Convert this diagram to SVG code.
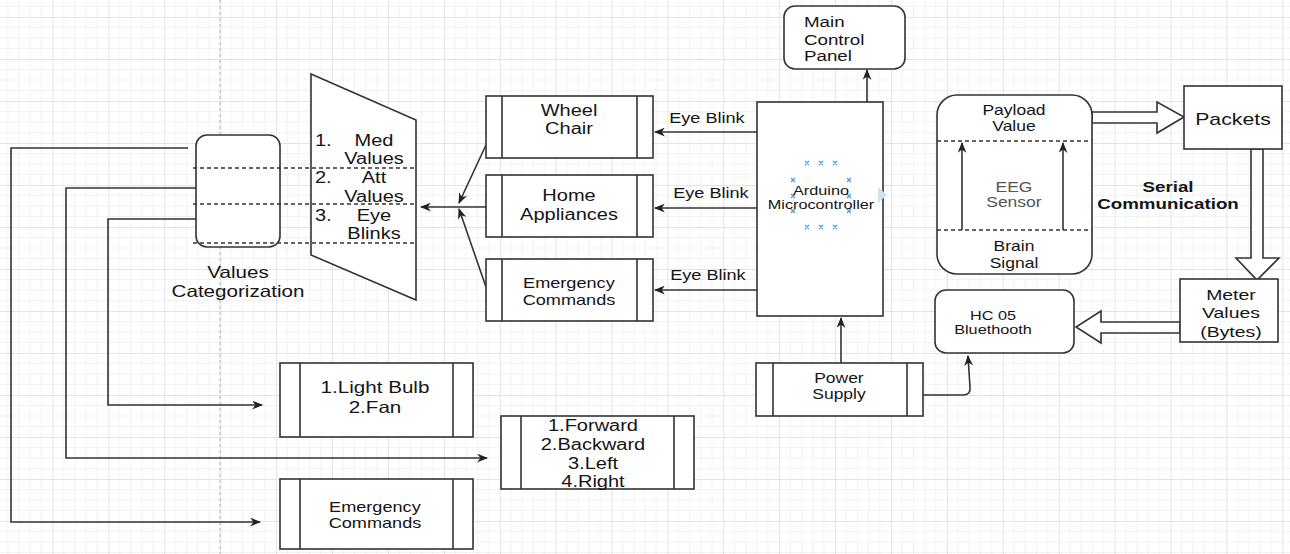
<svg xmlns="http://www.w3.org/2000/svg" width="1290" height="554" viewBox="0 0 1290 554">
<defs>
<pattern id="grid" x="52.5" y="17" width="55.9" height="42" patternUnits="userSpaceOnUse">
<path d="M11.18,0V42M22.36,0V42M33.54,0V42M44.72,0V42M0,10.5H55.9M0,21H55.9M0,31.5H55.9" stroke="#f2f2f2" stroke-width="1" fill="none"/>
<path d="M0.5,0V42M0,0.5H55.9" stroke="#e3e3e3" stroke-width="1" fill="none"/>
</pattern>
<marker id="arr" viewBox="0 0 10 8" refX="9" refY="4" markerWidth="11" markerHeight="9" markerUnits="userSpaceOnUse" orient="auto">
<path d="M0,0 L10,4 L0,8 L3,4 Z" fill="#222"/>
</marker>
<style>
.box{fill:#fff;stroke:#333;stroke-width:1.6}
.ln{fill:none;stroke:#333;stroke-width:1.6}
.dash{fill:none;stroke:#333;stroke-width:1.3;stroke-dasharray:4 3}
.t{font-family:"Liberation Sans",Arial,sans-serif;fill:#151515;text-anchor:middle;transform-box:fill-box;transform-origin:center;transform:scaleX(1.25)}
.tl{text-anchor:start;transform-origin:left center}
.b{font-weight:bold}
.x{stroke:#5a9fd4;stroke-width:1.4}
</style>
</defs>
<rect width="1290" height="554" fill="#fff"/>
<rect width="1290" height="554" fill="url(#grid)"/>
<line x1="220" y1="0" x2="220" y2="554" stroke="#c4c4c4" stroke-width="1.3" stroke-dasharray="3 3"/>

<g id="connectors">
<path class="ln" d="M188,148 H11 V522 H260" marker-end="url(#arr)"/>
<path class="ln" d="M196,188 H66 V458 H487" marker-end="url(#arr)"/>
<path class="ln" d="M198,219 H108 V405 H262" marker-end="url(#arr)"/>
<path class="ln" d="M486,145 L459,203" marker-end="url(#arr)"/>
<path class="ln" d="M486,207 L421,207" marker-end="url(#arr)"/>
<path class="ln" d="M486,287 L459,209" marker-end="url(#arr)"/>
<path class="ln" d="M757,132 H655" marker-end="url(#arr)"/>
<path class="ln" d="M757,208 H655" marker-end="url(#arr)"/>
<path class="ln" d="M757,290 H655" marker-end="url(#arr)"/>
<path class="ln" d="M867,102 V70" marker-end="url(#arr)"/>
<path class="ln" d="M841,363 V318" marker-end="url(#arr)"/>
<path class="ln" d="M923,395 H963 Q971,395 970,387 L968,356" marker-end="url(#arr)"/>
<polygon class="box" points="1092,112 1157,112 1157,102 1184,117 1157,133 1157,123 1092,123"/>
<polygon class="box" points="1251,149 1263,149 1263,258 1279,258 1257,280 1236,258 1251,258"/>
<polygon class="box" points="1180,322 1101,322 1101,311 1076,327 1101,343 1101,333 1180,333"/>
</g>

<g id="values-categorization">
<rect class="box" x="196" y="135" width="84" height="112" rx="11"/>
<text class="t" x="238" y="278" font-size="16.5">Values</text>
<text class="t" x="238" y="297" font-size="16.5">Categorization</text>
</g>

<g id="categories">
<polygon class="box" points="311,74 416,120 416,300 311,255"/>
<text class="t tl" x="315" y="146" font-size="16">1.</text>
<text class="t" x="374" y="146" font-size="16">Med</text>
<text class="t" x="374" y="164" font-size="16">Values</text>
<text class="t tl" x="315" y="183" font-size="16">2.</text>
<text class="t" x="374" y="183" font-size="16">Att</text>
<text class="t" x="374" y="202" font-size="16">Values</text>
<text class="t tl" x="315" y="221" font-size="16">3.</text>
<text class="t" x="374" y="221" font-size="16">Eye</text>
<text class="t" x="374" y="239" font-size="16">Blinks</text>
</g>
<g id="category-dividers">
<line class="dash" x1="193" y1="168" x2="416" y2="168"/>
<line class="dash" x1="193" y1="204" x2="416" y2="204"/>
<line class="dash" x1="193" y1="243" x2="416" y2="243"/>
</g>

<g id="wheel-chair">
<rect class="box" x="486" y="96" width="167" height="62"/>
<path class="ln" d="M502,96V158M637,96V158"/>
<text class="t" x="569" y="116" font-size="16">Wheel</text>
<text class="t" x="569" y="134" font-size="16">Chair</text>
</g>
<g id="home-appliances">
<rect class="box" x="486" y="175" width="167" height="62"/>
<path class="ln" d="M502,175V237M637,175V237"/>
<text class="t" x="569" y="201" font-size="16">Home</text>
<text class="t" x="569" y="220" font-size="16">Appliances</text>
</g>
<g id="emergency-commands">
<rect class="box" x="486" y="259" width="167" height="62"/>
<path class="ln" d="M502,259V321M637,259V321"/>
<text class="t" x="569" y="288" font-size="14.5">Emergency</text>
<text class="t" x="569" y="305" font-size="14.5">Commands</text>
</g>

<g id="eye-blink-labels">
<text class="t" x="707" y="123" font-size="14.5">Eye Blink</text>
<text class="t" x="711" y="198" font-size="14.5">Eye Blink</text>
<text class="t" x="708" y="280" font-size="14.5">Eye Blink</text>
</g>

<g id="arduino">
<rect class="box" x="757" y="102" width="126" height="214"/>
<g class="x">
<path d="M805,161l4,4m0,-4l-4,4M819,161l4,4m0,-4l-4,4M833,161l4,4m0,-4l-4,4"/>
<path d="M805,225l4,4m0,-4l-4,4M819,225l4,4m0,-4l-4,4M833,225l4,4m0,-4l-4,4"/>
<path d="M791,178l4,4m0,-4l-4,4M791,194l4,4m0,-4l-4,4M791,209l4,4m0,-4l-4,4"/>
<path d="M847,178l4,4m0,-4l-4,4M847,194l4,4m0,-4l-4,4M847,209l4,4m0,-4l-4,4"/>
</g>
<polygon points="878,187 887,195 878,203" fill="#cfe2f3"/>
<text class="t" x="821" y="195" font-size="13">Arduino</text>
<text class="t" x="821" y="209" font-size="13">Microcontroller</text>
</g>

<g id="main-control-panel">
<rect class="box" x="784" y="6" width="121" height="63" rx="11"/>
<text class="t tl" x="804" y="27" font-size="15">Main</text>
<text class="t tl" x="804" y="45" font-size="15">Control</text>
<text class="t tl" x="804" y="61" font-size="15">Panel</text>
</g>

<g id="eeg-sensor">
<rect class="box" x="937" y="95" width="155" height="179" rx="20"/>
<line class="dash" x1="937" y1="141" x2="1092" y2="141"/>
<line class="dash" x1="937" y1="230" x2="1092" y2="230"/>
<path class="ln" d="M962,230V143" marker-end="url(#arr)"/>
<path class="ln" d="M1063,230V143" marker-end="url(#arr)"/>
<text class="t" x="1014" y="115" font-size="14">Payload</text>
<text class="t" x="1014" y="131" font-size="14">Value</text>
<text class="t" x="1014" y="192" font-size="14" style="fill:#555">EEG</text>
<text class="t" x="1014" y="207" font-size="14" style="fill:#555">Sensor</text>
<text class="t" x="1014" y="251" font-size="14">Brain</text>
<text class="t" x="1014" y="268" font-size="14">Signal</text>
</g>

<g id="packets">
<rect class="box" x="1184" y="86" width="98" height="63"/>
<text class="t" x="1233" y="125" font-size="17">Packets</text>
</g>

<g id="serial-communication">
<text class="t b" x="1168" y="192" font-size="15">Serial</text>
<text class="t b" x="1168" y="209" font-size="15">Communication</text>
</g>

<g id="meter-values">
<rect class="box" x="1180" y="279" width="98" height="63"/>
<text class="t" x="1231" y="300" font-size="15.5">Meter</text>
<text class="t" x="1231" y="318" font-size="15.5">Values</text>
<text class="t" x="1231" y="337" font-size="15.5">(Bytes)</text>
</g>

<g id="hc05">
<rect class="box" x="935" y="290" width="139" height="63" rx="11"/>
<text class="t" x="993" y="320" font-size="13">HC 05</text>
<text class="t" x="993" y="334" font-size="13">Bluethooth</text>
</g>

<g id="power-supply">
<rect class="box" x="756" y="363" width="167" height="53"/>
<path class="ln" d="M773,363V416M907,363V416"/>
<text class="t" x="839" y="383" font-size="14">Power</text>
<text class="t" x="839" y="399" font-size="14">Supply</text>
</g>

<g id="home-commands">
<rect class="box" x="280" y="363" width="193" height="74"/>
<path class="ln" d="M300,363V437M453,363V437"/>
<text class="t" x="375" y="393" font-size="16.5">1.Light Bulb</text>
<text class="t" x="375" y="413" font-size="16.5">2.Fan</text>
</g>

<g id="wheelchair-commands">
<rect class="box" x="501" y="416" width="193" height="73"/>
<path class="ln" d="M521,416V489M674,416V489"/>
<text class="t" x="593" y="431" font-size="16">1.Forward</text>
<text class="t" x="593" y="450" font-size="16">2.Backward</text>
<text class="t" x="593" y="469" font-size="16">3.Left</text>
<text class="t" x="593" y="487" font-size="16">4.Right</text>
</g>

<g id="emergency-commands-out">
<rect class="box" x="280" y="479" width="193" height="70"/>
<path class="ln" d="M300,479V549M453,479V549"/>
<text class="t" x="375" y="512" font-size="14.5">Emergency</text>
<text class="t" x="375" y="528" font-size="14.5">Commands</text>
</g>
</svg>
